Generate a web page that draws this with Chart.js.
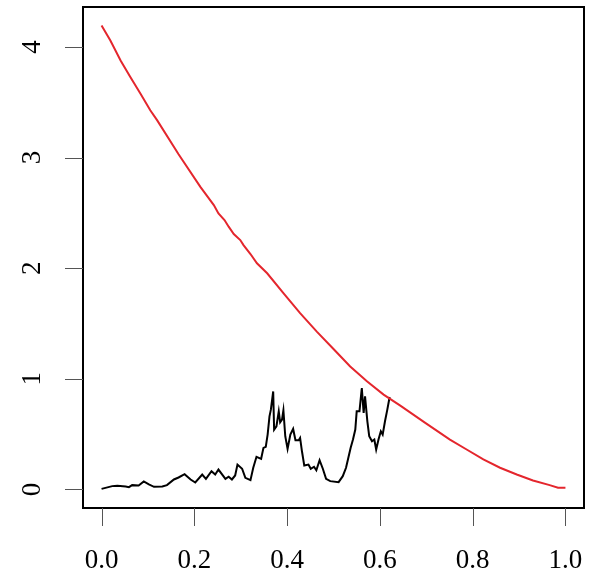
<!DOCTYPE html>
<html>
<head>
<meta charset="utf-8">
<script src="https://cdn.jsdelivr.net/npm/chart.js@4.4.1/dist/chart.umd.min.js"></script>
<style>
  html, body { margin: 0; padding: 0; background: #fff; }
  canvas { display: block; }
</style>
</head>
<body>
<canvas id="pathChart" width="590" height="576"></canvas>
<script>
// sample path (black), stopped where it meets the boundary
var pathT = [0.000, 0.023, 0.034, 0.052, 0.059, 0.066, 0.080, 0.091, 0.102, 0.113,
  0.131, 0.141, 0.156, 0.166, 0.179, 0.192, 0.202, 0.217, 0.225, 0.237,
  0.245, 0.252, 0.267, 0.274, 0.281, 0.288, 0.293, 0.303, 0.310, 0.321,
  0.327, 0.334, 0.344, 0.349, 0.354, 0.358, 0.362, 0.365, 0.370, 0.372,
  0.377, 0.382, 0.385, 0.389, 0.392, 0.396, 0.401, 0.407, 0.413, 0.418,
  0.425, 0.428, 0.432, 0.437, 0.446, 0.451, 0.458, 0.463, 0.470, 0.477,
  0.484, 0.493, 0.511, 0.520, 0.527, 0.532, 0.537, 0.542, 0.547, 0.550,
  0.556, 0.561, 0.565, 0.568, 0.573, 0.577, 0.583, 0.588, 0.592, 0.597,
  0.602, 0.606, 0.611, 0.616, 0.621];
var pathY = [0.005, 0.030, 0.033, 0.027, 0.021, 0.039, 0.036, 0.072, 0.045, 0.024,
  0.027, 0.039, 0.090, 0.108, 0.138, 0.090, 0.063, 0.135, 0.096, 0.165,
  0.135, 0.180, 0.096, 0.115, 0.090, 0.126, 0.225, 0.187, 0.105, 0.084,
  0.196, 0.295, 0.277, 0.376, 0.385, 0.496, 0.661, 0.721, 0.886, 0.541,
  0.571, 0.706, 0.607, 0.631, 0.715, 0.481, 0.367, 0.496, 0.547, 0.445,
  0.445, 0.466, 0.345, 0.216, 0.225, 0.187, 0.205, 0.174, 0.264, 0.187,
  0.096, 0.075, 0.066, 0.120, 0.196, 0.286, 0.376, 0.451, 0.541, 0.706,
  0.706, 0.917, 0.692, 0.841, 0.616, 0.481, 0.436, 0.451, 0.361, 0.451,
  0.526, 0.496, 0.616, 0.721, 0.836];

// boundary curve (red)
var boundT = [0.000, 0.019, 0.041, 0.062, 0.084, 0.105, 0.120, 0.166, 0.213, 0.242,
  0.252, 0.265, 0.274, 0.285, 0.299, 0.306, 0.321, 0.335, 0.357, 0.392,
  0.428, 0.464, 0.500, 0.536, 0.572, 0.608, 0.644, 0.697, 0.751, 0.787,
  0.823, 0.859, 0.895, 0.930, 0.966, 0.984, 1.000];
var boundY = [4.193, 4.058, 3.877, 3.727, 3.577, 3.427, 3.336, 3.030, 2.735, 2.570,
  2.495, 2.435, 2.375, 2.309, 2.254, 2.209, 2.128, 2.044, 1.954, 1.774,
  1.594, 1.427, 1.269, 1.112, 0.977, 0.857, 0.757, 0.604, 0.451, 0.361,
  0.271, 0.196, 0.135, 0.081, 0.039, 0.015, 0.015];

var xTicks = [0, 0.2, 0.4, 0.6, 0.8, 1.0];
var yTicks = [0, 1, 2, 3, 4];

function toPoints(xs, ys) {
  return xs.map(function(x, i) { return { x: x, y: ys[i] }; });
}

// R-style axis limits: data range widened by 4% on each side
var yMax = Math.max.apply(null, boundY);
var yPad = yMax * 0.04;

var axisFont = '27px "Liberation Serif", "DejaVu Serif", serif';

var rAxes = {
  id: 'rAxes',
  afterDraw: function(chart) {
    var ctx = chart.ctx;
    var area = chart.chartArea;
    var xs = chart.scales.x, ys = chart.scales.y;
    ctx.save();

    // frame
    ctx.strokeStyle = '#000';
    ctx.lineWidth = 2;
    ctx.strokeRect(area.left, area.top, area.right - area.left, area.bottom - area.top);

    // tick marks
    ctx.lineWidth = 1;
    ctx.strokeStyle = '#555';
    ctx.beginPath();
    xTicks.forEach(function(v) {
      var px = Math.round(xs.getPixelForValue(v)) + 0.5;
      ctx.moveTo(px, area.bottom);
      ctx.lineTo(px, area.bottom + 18);
    });
    yTicks.forEach(function(v) {
      var py = Math.round(ys.getPixelForValue(v)) + 0.5;
      ctx.moveTo(area.left, py);
      ctx.lineTo(area.left - 18, py);
    });
    ctx.stroke();

    // tick labels
    ctx.fillStyle = '#000';
    ctx.font = axisFont;
    ctx.textAlign = 'center';
    ctx.textBaseline = 'middle';
    xTicks.forEach(function(v) {
      ctx.fillText(v.toFixed(1), xs.getPixelForValue(v), 561);
    });
    yTicks.forEach(function(v) {
      ctx.save();
      ctx.translate(33, ys.getPixelForValue(v));
      ctx.rotate(-Math.PI / 2);
      ctx.fillText(String(v), 0, 0);
      ctx.restore();
    });
    ctx.restore();
  }
};

var ctx = document.getElementById('pathChart').getContext('2d');
var pathChart = new Chart(ctx, {
  type: 'scatter',
  data: {
    datasets: [{
      label: 'boundary',
      data: toPoints(boundT, boundY),
      showLine: true,
      borderColor: 'rgb(228, 38, 45)',
      borderWidth: 2,
      pointRadius: 0,
      tension: 0
    }, {
      label: 'path',
      data: toPoints(pathT, pathY),
      showLine: true,
      borderColor: '#000',
      borderWidth: 2,
      pointRadius: 0,
      tension: 0
    }]
  },
  options: {
    responsive: false,
    animation: false,
    layout: {
      padding: { left: 83, top: 7, right: 6, bottom: 68 }
    },
    scales: {
      x: { type: 'linear', display: false, min: -0.04, max: 1.04 },
      y: { type: 'linear', display: false, min: -yPad, max: yMax + yPad }
    },
    plugins: {
      legend: { display: false },
      tooltip: { enabled: false }
    }
  },
  plugins: [rAxes]
});
</script>
</body>
</html>
